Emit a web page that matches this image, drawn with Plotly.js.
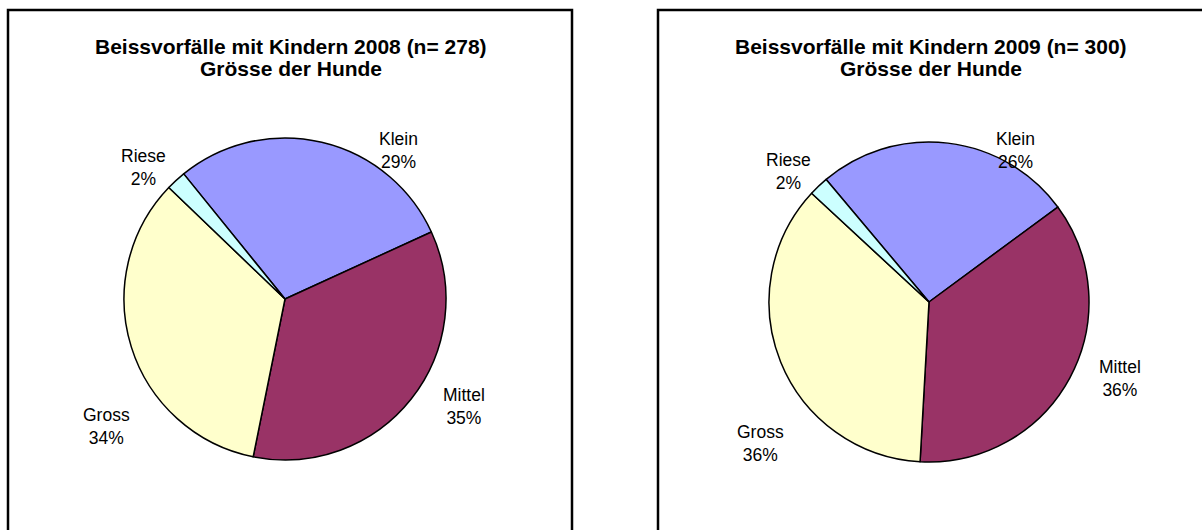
<!DOCTYPE html>
<html><head><meta charset="utf-8">
<script src="https://cdn.plot.ly/plotly-3.0.1.min.js"></script>
<style>html,body{margin:0;padding:0;background:#fff;} #chart{width:1202px;height:530px;}</style>
</head><body><div id="chart"></div>
<script>
// ---- data ----
const categories = ['Klein', 'Mittel', 'Gross', 'Riese'];
const values2008 = [29, 35, 34, 2];
const values2009 = [26, 36, 36, 2];
const title2008 = ['Beissvorfälle mit Kindern 2008 (n= 278)', 'Grösse der Hunde'];
const title2009 = ['Beissvorfälle mit Kindern 2009 (n= 300)', 'Grösse der Hunde'];

// ---- styling / layout ----
const colors = ['#9999FF', '#993366', '#FFFFCC', '#CCFFFF'];
const W = 1202, H = 530;
const px = x => x / W, py = y => 1 - y / H;
const FONT = 'Liberation Sans, Arial, sans-serif';

function pieDomain(cx, cy, r) {
  return { x: [px(cx - r), px(cx + r)], y: [py(cy + r), py(cy - r)] };
}

const traces = [
  {
    type: 'pie', labels: categories, values: values2008, sort: false,
    direction: 'clockwise', rotation: -39, textinfo: 'none', hoverinfo: 'skip',
    marker: { colors: colors, line: { color: '#000', width: 1.5 } },
    domain: pieDomain(285, 299, 161), showlegend: false
  },
  {
    type: 'pie', labels: categories, values: values2009, sort: false,
    direction: 'clockwise', rotation: -40, textinfo: 'none', hoverinfo: 'skip',
    marker: { colors: colors, line: { color: '#000', width: 1.5 } },
    domain: pieDomain(929, 302, 160), showlegend: false
  }
];

// label centre positions (pixel)
const labelPos2008 = [[398, 150.5], [464, 406.5], [106, 426], [143, 168]];
const labelPos2009 = [[1015, 150.5], [1120, 378], [760, 443.5], [788, 171]];

const annotations = [];
function addText(x, y, text, size, bold) {
  annotations.push({
    xref: 'paper', yref: 'paper', x: px(x), y: py(y), xanchor: 'center', yanchor: 'middle',
    text: bold ? '<b>' + text + '</b>' : text, showarrow: false, borderpad: 0,
    font: { family: FONT, size: size, color: '#000' }
  });
}
function addLabels(vals, pos) {
  categories.forEach((c, i) => {
    addText(pos[i][0], pos[i][1], c + '<br>' + vals[i] + '%', 17.5, false);
  });
}
addLabels(values2008, labelPos2008);
addLabels(values2009, labelPos2009);
addText(291, 47, title2008[0], 21, true);
addText(291, 69, title2008[1], 21, true);
addText(931, 47, title2009[0], 21, true);
addText(931, 69, title2009[1], 21, true);

const shapes = [
  { type: 'rect', xref: 'paper', yref: 'paper', x0: px(8), x1: px(572), y0: py(560), y1: py(10),
    line: { color: '#000', width: 2.5 }, fillcolor: 'rgba(0,0,0,0)' },
  { type: 'rect', xref: 'paper', yref: 'paper', x0: px(658), x1: px(1260), y0: py(560), y1: py(10),
    line: { color: '#000', width: 2.5 }, fillcolor: 'rgba(0,0,0,0)' }
];

const layout = {
  width: W, height: H, margin: { l: 0, r: 0, t: 0, b: 0 },
  paper_bgcolor: '#fff', plot_bgcolor: '#fff',
  font: { family: FONT, color: '#000' },
  annotations: annotations, shapes: shapes, showlegend: false
};

Plotly.newPlot('chart', traces, layout, { staticPlot: true, displayModeBar: false });
</script>
</body></html>
